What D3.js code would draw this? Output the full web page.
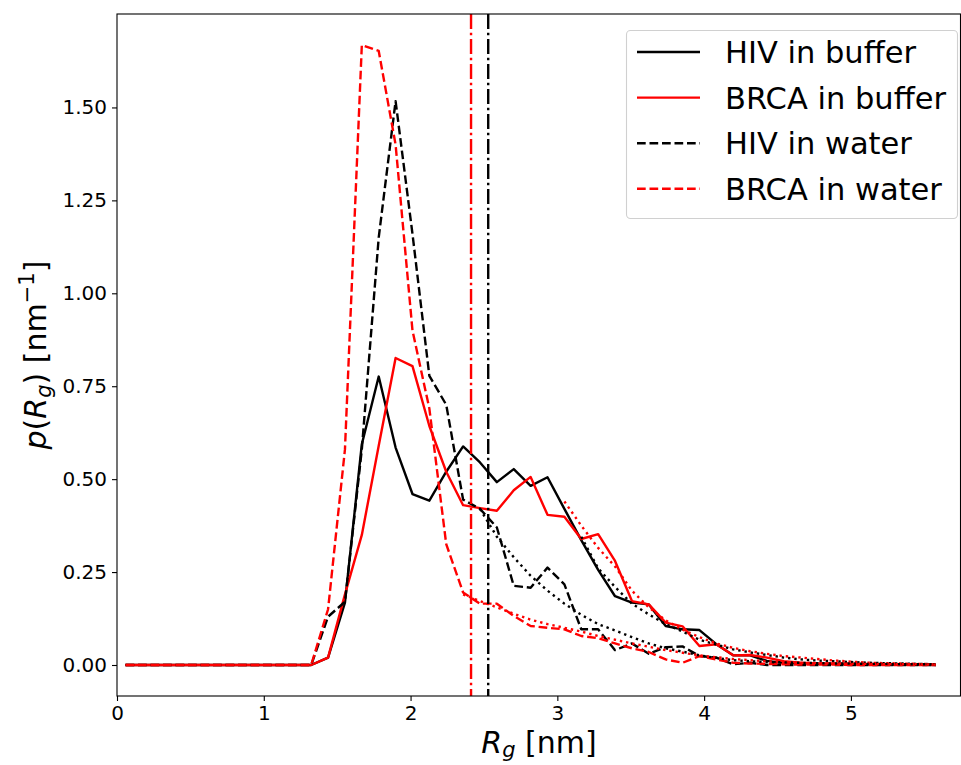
<!DOCTYPE html>
<html><head><meta charset="utf-8">
<script src="https://cdn.jsdelivr.net/npm/d3@7"></script>
<style>body{margin:0;background:#fff} text{font-family:"DejaVu Sans",sans-serif;fill:#000}</style>
</head><body><svg id="c" width="961" height="765"></svg>
<script>
// Bin centres of R_g [nm]
const rg = [0.058,0.173,0.288,0.403,0.518,0.633,0.748,0.863,0.978,1.093,1.208,1.323,1.438,1.553,1.668,1.783,1.898,2.013,2.128,2.243,2.358,2.473,2.588,2.703,2.818,2.933,3.048,3.163,3.278,3.393,3.508,3.623,3.738,3.853,3.968,4.083,4.198,4.313,4.428,4.543,4.658,4.773,4.888,5.003,5.118,5.233,5.348,5.463,5.578];

const hivBuffer  = [0,0,0,0,0,0,0,0,0,0,0,0,0.02,0.168,0.594,0.776,0.585,0.46,0.442,0.52,0.588,0.545,0.492,0.527,0.482,0.505,0.42,0.336,0.256,0.185,0.168,0.163,0.105,0.096,0.094,0.056,0.026,0.026,0.011,0.005,0.005,0.003,0.003,0.002,0.002,0.001,0.001,0.001,0];
const brcaBuffer = [0,0,0,0,0,0,0,0,0,0,0,0,0.02,0.19,0.35,0.59,0.826,0.804,0.643,0.52,0.43,0.422,0.415,0.47,0.506,0.404,0.399,0.339,0.352,0.28,0.172,0.163,0.114,0.104,0.051,0.056,0.026,0.027,0.02,0.01,0.006,0.004,0.004,0.003,0.002,0.002,0.002,0.001,0.001];
const hivWater   = [0,0,0,0,0,0,0,0,0,0,0,0,0.13,0.17,0.58,1.15,1.517,1.16,0.778,0.70,0.445,0.42,0.37,0.213,0.208,0.262,0.217,0.096,0.096,0.04,0.058,0.03,0.048,0.05,0.024,0.02,0.002,0.006,0,0,0,0,0,0,0,0,0,0,0];
const brcaWater  = [0,0,0,0,0,0,0,0,0,0,0,0,0.15,0.58,1.668,1.652,1.40,0.90,0.69,0.325,0.195,0.165,0.165,0.132,0.105,0.10,0.096,0.078,0.072,0.058,0.045,0.035,0.015,0.006,0.024,0.015,0.006,0.004,0.003,0.002,0.001,0.001,0.001,0,0,0,0,0,0];

// Tail fits (dotted), each starting at a bin index
const hivBufferFitStart = 27;
const hivBufferFit  = [0.345,0.26,0.21,0.165,0.136,0.11,0.09,0.068,0.055,0.042,0.034,0.027,0.02,0.015,0.012,0.01,0.008,0.006,0.005,0.004,0.003,0.002];
const brcaBufferFitStart = 26;
const brcaBufferFit = [0.44,0.375,0.315,0.265,0.2,0.155,0.12,0.095,0.075,0.058,0.046,0.037,0.03,0.024,0.02,0.016,0.012,0.009,0.006,0.005,0.004,0.003,0.002];
const hivWaterFitStart = 21;
const hivWaterFit   = [0.42,0.345,0.29,0.24,0.2,0.165,0.135,0.11,0.093,0.075,0.058,0.045,0.036,0.026,0.019,0.013,0.01,0.008,0.007,0.006,0.005,0.004,0.004,0.003,0.003,0.002,0.002,0.002];
const brcaWaterFitStart = 20;
const brcaWaterFit  = [0.19,0.172,0.155,0.138,0.122,0.11,0.1,0.09,0.078,0.068,0.058,0.049,0.04,0.033,0.026,0.021,0.016,0.013,0.01,0.008,0.006,0.005,0.004,0.003,0.003,0.002,0.002,0.002,0.001];

// Mean R_g markers
const meanHIV = 2.529;
const meanBRCA = 2.412;

const xTicks = [0,1,2,3,4,5];
const yTicks = [0,0.25,0.5,0.75,1.0,1.25,1.5];
const legendLabels = ["HIV in buffer","BRCA in buffer","HIV in water","BRCA in water"];

const L=117, R=961, T=14, B=696;
const svg = d3.select("#c");
const x = d3.scaleLinear().domain([0,5.75]).range([L,R]);
const y = d3.scaleLinear().domain([-0.0834,1.7514]).range([B,T]);

svg.append("defs").append("clipPath").attr("id","clip")
  .append("rect").attr("x",L).attr("y",T).attr("width",R-L).attr("height",B-T);

const LW = 2.4;
const DASH = "8.7,3.8", DOT = "2.4,3.9", DASHDOT = "15,3.8,2.4,3.8";
const g = svg.append("g").attr("clip-path","url(#clip)");
const line = d3.line().x(d=>x(d[0])).y(d=>y(d[1]));

function draw(pts,color,dash){
  g.append("path").datum(pts).attr("d",line).attr("fill","none")
   .attr("stroke",color).attr("stroke-width",LW).attr("stroke-dasharray",dash||null)
   .attr("stroke-linejoin","round");
}
const pair = (vals,start=0)=>vals.map((v,i)=>[rg[i+start],v]);

draw(pair(hivBuffer),"#000");
draw(pair(brcaBuffer),"#ff0000");
draw(pair(hivWater),"#000",DASH);
draw(pair(brcaWater),"#ff0000",DASH);
draw(pair(hivBufferFit,hivBufferFitStart),"#000",DOT);
draw(pair(brcaBufferFit,brcaBufferFitStart),"#ff0000",DOT);
draw(pair(hivWaterFit,hivWaterFitStart),"#000",DOT);
draw(pair(brcaWaterFit,brcaWaterFitStart),"#ff0000",DOT);

[[meanBRCA,"#ff0000"],[meanHIV,"#000"]].forEach(([m,c])=>{
  g.append("line").attr("x1",x(m)).attr("x2",x(m)).attr("y1",T).attr("y2",B)
   .attr("stroke",c).attr("stroke-width",LW).attr("stroke-dasharray",DASHDOT);
});

// axes
const xa = svg.append("g").attr("transform",`translate(0,${B})`)
  .call(d3.axisBottom(x).tickValues(xTicks).tickFormat(d3.format("d")).tickSize(5).tickPadding(5));
const ya = svg.append("g").attr("transform",`translate(${L},0)`)
  .call(d3.axisLeft(y).tickValues(yTicks).tickFormat(d3.format(".2f")).tickSize(5).tickPadding(5));
[xa,ya].forEach(a=>{
  a.select(".domain").remove();
  a.selectAll("line").attr("stroke","#000").attr("stroke-width",1.1);
  a.selectAll("text").attr("font-size",20).attr("font-family","DejaVu Sans").attr("fill","#000");
});

svg.append("rect").attr("x",L).attr("y",T).attr("width",R-L-0.5).attr("height",B-T)
  .attr("fill","none").attr("stroke","#000").attr("stroke-width",1.1);

// axis labels
const xl = svg.append("text").attr("x",(L+R)/2).attr("y",753).attr("text-anchor","middle").attr("font-size",30);
xl.append("tspan").attr("font-style","italic").text("R");
xl.append("tspan").attr("font-style","italic").attr("font-size",21).attr("dy",4).text("g");
xl.append("tspan").attr("dy",-4).text(" [nm]");

const yl = svg.append("text").attr("transform",`translate(46,${(T+B)/2}) rotate(-90)`)
  .attr("text-anchor","middle").attr("font-size",30);
yl.append("tspan").attr("font-style","italic").text("p");
yl.append("tspan").text("(");
yl.append("tspan").attr("font-style","italic").text("R");
yl.append("tspan").attr("font-style","italic").attr("font-size",21).attr("dy",5).text("g");
yl.append("tspan").attr("dy",-5).text(") [nm");
yl.append("tspan").attr("font-size",21).attr("dy",-12).text("\u22121");
yl.append("tspan").attr("dy",12).text("]");

// legend
const lg = svg.append("g");
lg.append("rect").attr("x",626.5).attr("y",30.5).attr("width",331).attr("height",188).attr("rx",4)
  .attr("fill","#fff").attr("fill-opacity",0.8).attr("stroke","#d0d0d0").attr("stroke-width",1.1);
const styles = [["#000",null],["#ff0000",null],["#000",DASH],["#ff0000",DASH]];
legendLabels.forEach((t,i)=>{
  const cy = 52 + i*45.6;
  lg.append("line").attr("x1",637).attr("x2",700).attr("y1",cy).attr("y2",cy)
    .attr("stroke",styles[i][0]).attr("stroke-width",LW).attr("stroke-dasharray",styles[i][1]);
  lg.append("text").attr("x",725).attr("y",cy+11).attr("font-size",30.5).text(t);
});
</script></body></html>
